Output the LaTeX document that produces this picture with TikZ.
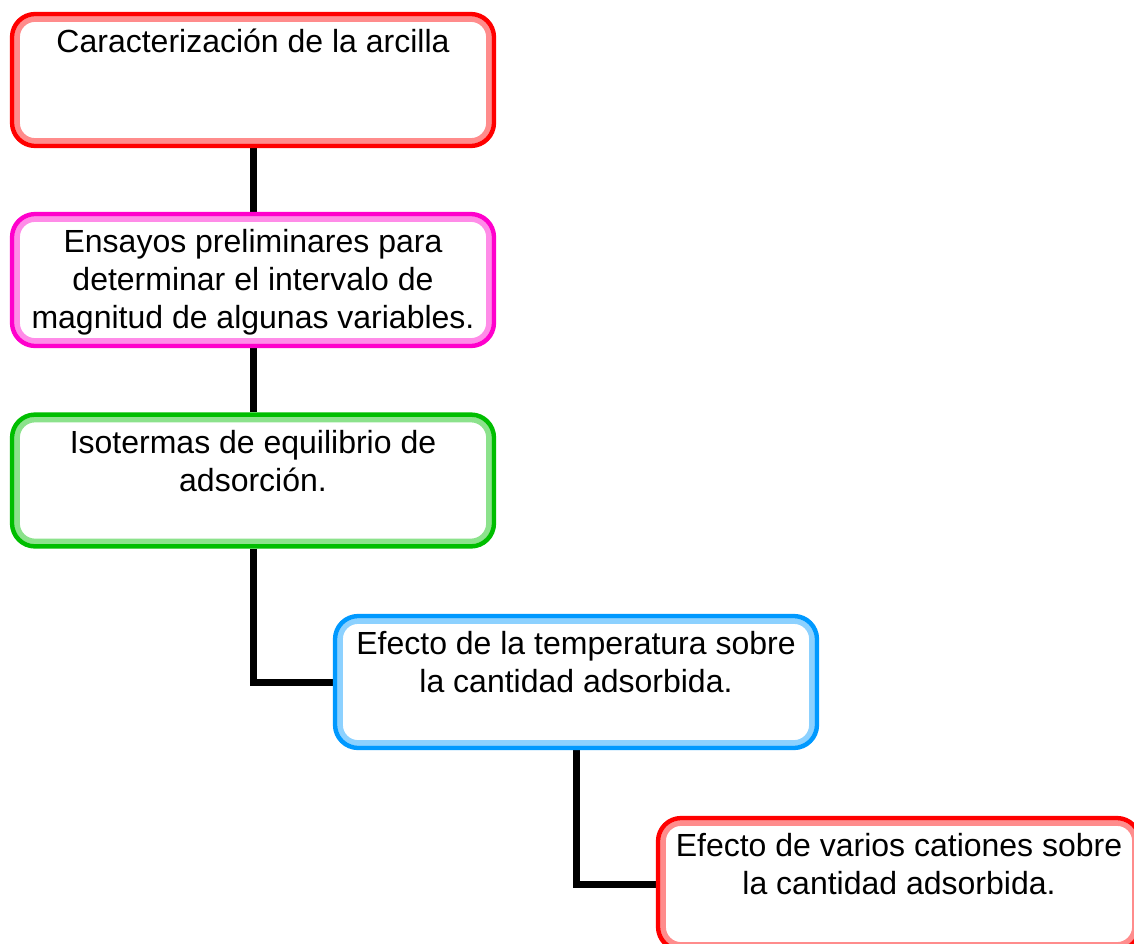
\documentclass[tikz,border=0pt]{standalone}
\usepackage{fontspec}
\setmainfont{Liberation Sans}
\definecolor{cRed}{RGB}{255,0,0}
\definecolor{cMag}{RGB}{255,0,204}
\definecolor{cGreen}{RGB}{0,190,0}
\definecolor{cBlue}{RGB}{0,153,255}
\tikzset{
  box/.style={rectangle, fill=white, inner xsep=6pt, inner ysep=14pt,
    minimum width=486pt, minimum height=136pt, font=\fontsize{32}{38}\selectfont},
  edgeline/.style={draw=#1, line width=4.5pt, rounded corners=23pt},
  band/.style={draw=#1!45, line width=5.5pt, rounded corners=18pt},
  conn/.style={draw=black, line width=7pt, line join=miter},
}
\newcommand{\boxtext}[1]{\parbox[t][108pt][t]{474pt}{\centering\strut #1}}
\newcommand{\frameit}[2]{%
  \draw[band=#2] ([shift={(7.3pt,-7.3pt)}]#1.north west) rectangle ([shift={(-7.3pt,7.3pt)}]#1.south east);
  \draw[edgeline=#2] ([shift={(2.3pt,-2.3pt)}]#1.north west) rectangle ([shift={(-2.3pt,2.3pt)}]#1.south east);
}
\begin{document}
\begin{tikzpicture}[x=1pt,y=1pt]
\clip (0,0) rectangle (1134,-944);
\fill[white] (0,0) rectangle (1134,-944);
\node[box] (b1) at (253,-80) {\boxtext{Caracterización de la arcilla}};
\node[box] (b2) at (253,-280) {\boxtext{Ensayos preliminares para\\ determinar el intervalo de\\ magnitud de algunas variables.}};
\node[box] (b3) at (253,-480.5) {\boxtext{Isotermas de equilibrio de\\ adsorción.}};
\node[box] (b4) at (576,-682) {\boxtext{Efecto de la temperatura sobre\\ la cantidad adsorbida.}};
\node[box] (b5) at (899,-884) {\boxtext{Efecto de varios cationes sobre\\ la cantidad adsorbida.}};
\draw[conn] (b1.south) -- (b2.north);
\draw[conn] (b2.south) -- (b3.north);
\draw[conn] (b3.south) |- (b4.west);
\draw[conn] (b4.south) |- (b5.west);
\frameit{b1}{cRed}
\frameit{b2}{cMag}
\frameit{b3}{cGreen}
\frameit{b4}{cBlue}
\frameit{b5}{cRed}
\end{tikzpicture}
\end{document}
